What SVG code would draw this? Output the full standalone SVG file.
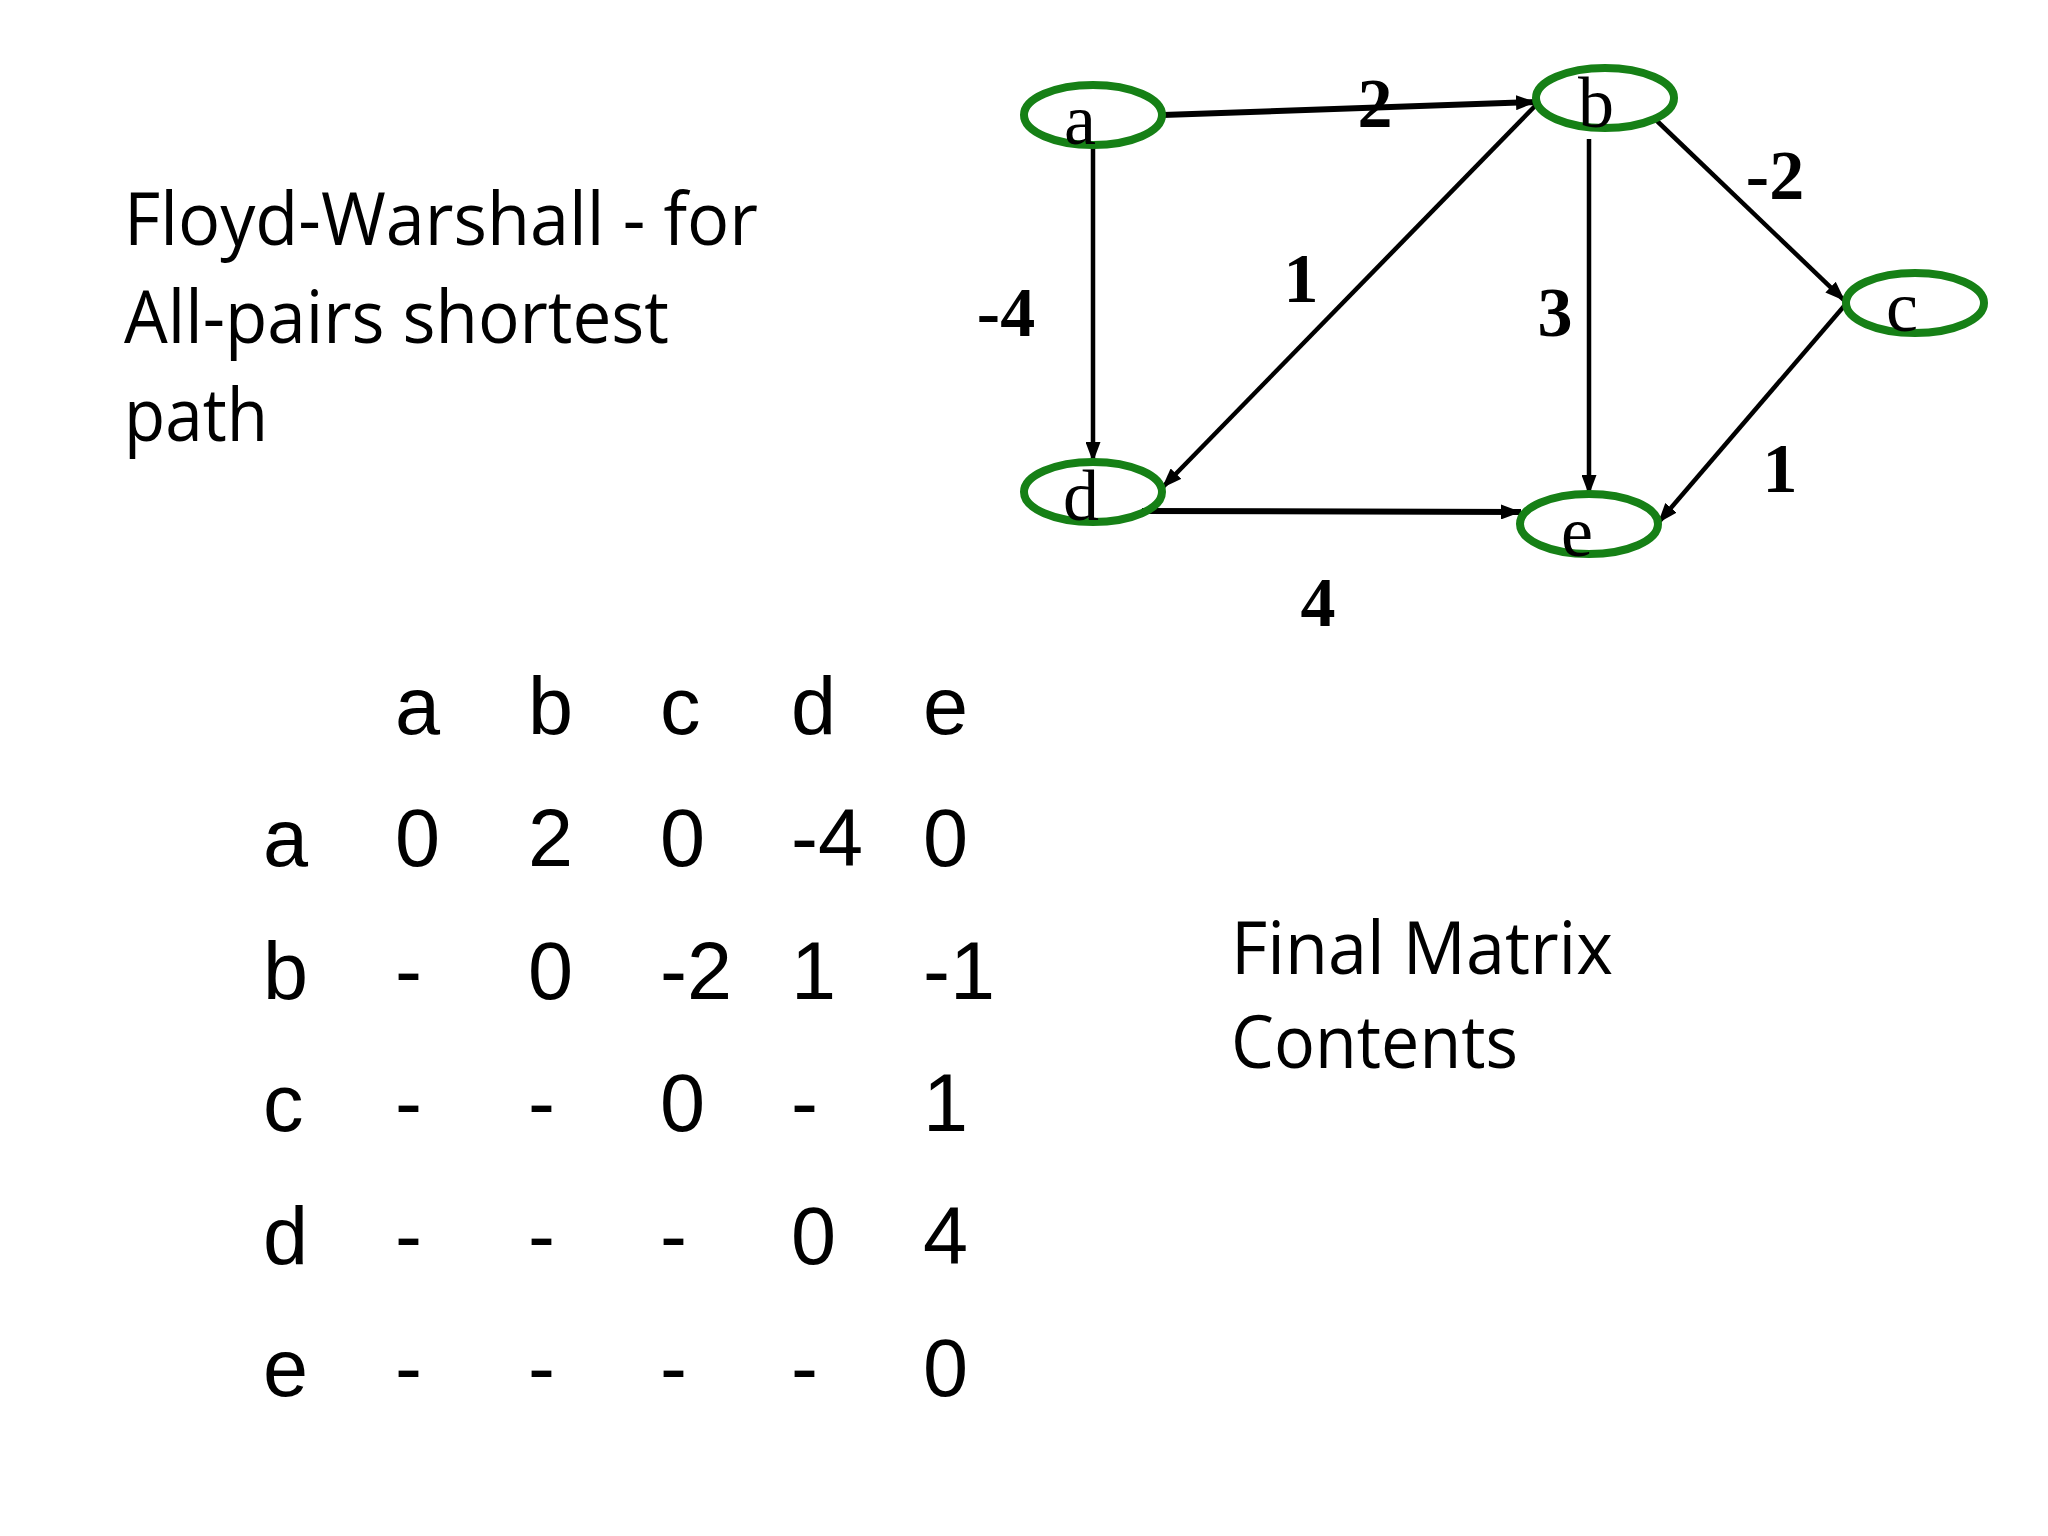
<svg xmlns="http://www.w3.org/2000/svg" width="2048" height="1536" viewBox="0 0 2048 1536">
<defs>
<marker id="arr" markerUnits="userSpaceOnUse" markerWidth="20" markerHeight="15" refX="20" refY="7.5" orient="auto">
<path d="M0,0 L20,7.5 L0,15 z" fill="#000"/>
</marker>
<style>
.title{font-family:"Open Sans","Liberation Sans",sans-serif;font-size:73px;fill:#000}
.mx{font-family:"Liberation Sans",Arial,sans-serif;font-size:81px;fill:#000}
.node ellipse{fill:none;stroke:#168016;stroke-width:8}
.nl{font-family:"Liberation Serif","Times New Roman",serif;font-size:72px;fill:#000;text-anchor:middle}
.el{font-family:"Liberation Serif","Times New Roman",serif;font-size:70px;font-weight:bold;fill:#000;text-anchor:middle}
.edge{stroke:#000;stroke-width:4.5;fill:none;marker-end:url(#arr)}
.thick{stroke-width:6}
</style>
</defs>
<rect width="2048" height="1536" fill="#fff"/>

<g id="title">
<text class="title" x="124" y="245" textLength="634" lengthAdjust="spacingAndGlyphs">Floyd-Warshall - for</text>
<text class="title" x="124" y="343" textLength="545" lengthAdjust="spacingAndGlyphs">All-pairs shortest</text>
<text class="title" x="124" y="441" textLength="144" lengthAdjust="spacingAndGlyphs">path</text>
</g>

<g id="connectors">
<line class="edge thick" x1="1163" y1="115" x2="1536" y2="102"/>
<line class="edge" x1="1093" y1="145" x2="1093" y2="462"/>
<line class="edge" x1="1536" y1="105" x2="1162" y2="488"/>
<line class="edge" x1="1589" y1="139" x2="1589" y2="495"/>
<line class="edge" x1="1656" y1="120" x2="1845" y2="301"/>
<line class="edge" x1="1845" y1="305" x2="1658" y2="523"/>
<line class="edge thick" x1="1142" y1="511" x2="1521" y2="512"/>
</g>

<g id="edge-labels">
<text class="el" x="1375" y="127">2</text>
<text class="el" x="1775" y="199">-2</text>
<text class="el" x="1301" y="302">1</text>
<text class="el" x="1006" y="336">-4</text>
<text class="el" x="1555" y="336">3</text>
<text class="el" x="1780" y="492">1</text>
<text class="el" x="1318" y="626">4</text>
</g>

<g id="node-a" class="node"><ellipse cx="1093" cy="115" rx="69" ry="30"/><text class="nl" x="1080" y="144">a</text></g>
<g id="node-b" class="node"><ellipse cx="1605" cy="98" rx="69" ry="30"/><text class="nl" x="1596" y="127">b</text></g>
<g id="node-c" class="node"><ellipse cx="1915" cy="303" rx="69" ry="30"/><text class="nl" x="1902" y="331">c</text></g>
<g id="node-d" class="node"><ellipse cx="1093" cy="492" rx="69" ry="30"/><text class="nl" x="1081" y="520">d</text></g>
<g id="node-e" class="node"><ellipse cx="1589" cy="524" rx="69" ry="30"/><text class="nl" x="1577" y="556">e</text></g>

<g id="matrix">
<text class="mx" x="395" y="734">a</text>
<text class="mx" x="528" y="734">b</text>
<text class="mx" x="660" y="734">c</text>
<text class="mx" x="791" y="734">d</text>
<text class="mx" x="923" y="734">e</text>

<text class="mx" x="263" y="866">a</text>
<text class="mx" x="395" y="866">0</text>
<text class="mx" x="528" y="866">2</text>
<text class="mx" x="660" y="866">0</text>
<text class="mx" x="791" y="866">-4</text>
<text class="mx" x="923" y="866">0</text>

<text class="mx" x="263" y="999">b</text>
<text class="mx" x="395" y="999">-</text>
<text class="mx" x="528" y="999">0</text>
<text class="mx" x="660" y="999">-2</text>
<text class="mx" x="791" y="999">1</text>
<text class="mx" x="923" y="999">-1</text>

<text class="mx" x="263" y="1131">c</text>
<text class="mx" x="395" y="1131">-</text>
<text class="mx" x="528" y="1131">-</text>
<text class="mx" x="660" y="1131">0</text>
<text class="mx" x="791" y="1131">-</text>
<text class="mx" x="923" y="1131">1</text>

<text class="mx" x="263" y="1264">d</text>
<text class="mx" x="395" y="1264">-</text>
<text class="mx" x="528" y="1264">-</text>
<text class="mx" x="660" y="1264">-</text>
<text class="mx" x="791" y="1264">0</text>
<text class="mx" x="923" y="1264">4</text>

<text class="mx" x="263" y="1396">e</text>
<text class="mx" x="395" y="1396">-</text>
<text class="mx" x="528" y="1396">-</text>
<text class="mx" x="660" y="1396">-</text>
<text class="mx" x="791" y="1396">-</text>
<text class="mx" x="923" y="1396">0</text>
</g>

<g id="caption">
<text class="title" x="1231" y="974" textLength="382" lengthAdjust="spacingAndGlyphs">Final Matrix</text>
<text class="title" x="1231" y="1068" textLength="287" lengthAdjust="spacingAndGlyphs">Contents</text>
</g>
</svg>
